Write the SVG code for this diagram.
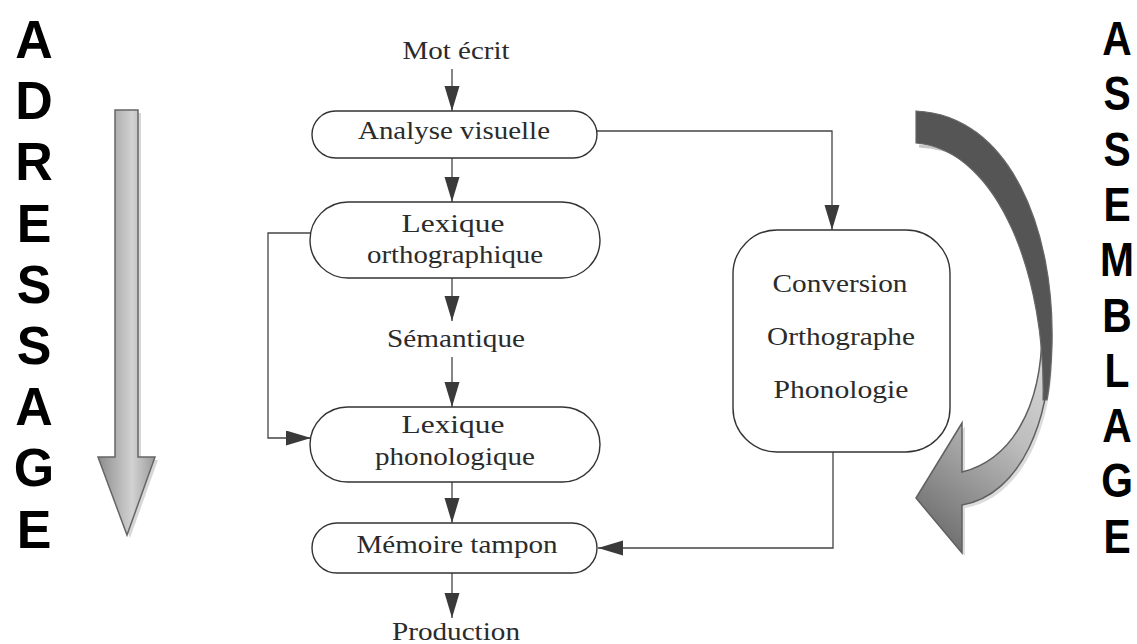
<svg xmlns="http://www.w3.org/2000/svg" width="1137" height="644" viewBox="0 0 1137 644">
<style>
.t{font-family:"Liberation Serif","Times New Roman",serif;font-size:26px;fill:#2b2b2b;text-anchor:middle}
.big{font-family:"Liberation Sans",Arial,sans-serif;font-weight:700;fill:#000;text-anchor:middle}
.box{fill:#fff;stroke:#333;stroke-width:1.4}
.ln{fill:none;stroke:#444;stroke-width:1.3}
</style>
<defs>
<marker id="ah" markerUnits="userSpaceOnUse" markerWidth="26" markerHeight="16" refX="25" refY="7.5" orient="auto">
<path d="M0,0 L25,7.5 L0,15 Z" fill="#3a3a3a"/>
</marker>
<linearGradient id="gl" x1="0" y1="0" x2="1" y2="0">
<stop offset="0" stop-color="#8c8c8c"/>
<stop offset="0.6" stop-color="#d2d2d2"/>
<stop offset="1" stop-color="#9a9a9a"/>
</linearGradient>
<linearGradient id="gr" gradientUnits="userSpaceOnUse" x1="916" y1="520" x2="1050" y2="340">
<stop offset="0" stop-color="#707070"/>
<stop offset="0.55" stop-color="#bdbdbd"/>
<stop offset="1" stop-color="#dcdcdc"/>
</linearGradient>
</defs>
<rect width="1137" height="644" fill="#fff"/>

<g id="adressage">
<g transform="translate(34,0) scale(0.98,1)">
<text class="big" font-size="53"><tspan x="0" y="58">A</tspan><tspan x="0" y="119">D</tspan><tspan x="0" y="180">R</tspan><tspan x="0" y="242">E</tspan><tspan x="0" y="303">S</tspan><tspan x="0" y="364">S</tspan><tspan x="0" y="425">A</tspan><tspan x="0" y="486">G</tspan><tspan x="0" y="548">E</tspan></text>
</g>
<path d="M118,113 H141 V460 H158 L130,538 L101,460 H118 Z" fill="#bcbcbc" opacity="0.6"/>
<path d="M115,110 H138 V457 H155 L127,535 L98,457 H115 Z" fill="url(#gl)" stroke="#666" stroke-width="1.5"/>
</g>

<g id="assemblage">
<g transform="translate(1117,0) scale(0.85,1)">
<text class="big" font-size="48"><tspan x="0" y="55">A</tspan><tspan x="0" y="110">S</tspan><tspan x="0" y="166">S</tspan><tspan x="0" y="221">E</tspan><tspan x="0" y="276">M</tspan><tspan x="0" y="332">B</tspan><tspan x="0" y="387">L</tspan><tspan x="0" y="442">A</tspan><tspan x="0" y="497">G</tspan><tspan x="0" y="553">E</tspan></text>
</g>
<path d="M1052,333 C1057,423 1023,498 965,508 L965,556 L919,501 L965,426 L965,475 C1013,463 1045,413 1045,333 Z" fill="#c4c4c4" opacity="0.6"/>
<path d="M1049,330 C1054,420 1020,495 962,505 L962,553 L916,498 L962,423 L962,472 C1010,460 1042,410 1042,330 Z" fill="url(#gr)" stroke="#606060" stroke-width="1.5"/>
<path d="M919,146 C990,150 1030,210 1040,280" fill="none" stroke="#c8c8c8" stroke-width="3"/>
<path d="M916,111 C1010,115 1055,230 1052,345 C1051,372 1049,390 1047,400 L1043,400 C1046,280 1000,150 916,143 Z" fill="#555" stroke="#666" stroke-width="1.2"/>
</g>

<g id="connectors">
<line class="ln" x1="452" y1="69" x2="452" y2="111" marker-end="url(#ah)"/>
<line class="ln" x1="452" y1="158" x2="452" y2="202" marker-end="url(#ah)"/>
<line class="ln" x1="452" y1="278" x2="452" y2="321" marker-end="url(#ah)"/>
<line class="ln" x1="452" y1="357" x2="452" y2="407" marker-end="url(#ah)"/>
<line class="ln" x1="452" y1="482" x2="452" y2="523" marker-end="url(#ah)"/>
<line class="ln" x1="452" y1="573" x2="452" y2="618" marker-end="url(#ah)"/>
<path class="ln" d="M311,233 H268 V438 H311" marker-end="url(#ah)"/>
<path class="ln" d="M597,131 H832 V230" marker-end="url(#ah)"/>
<path class="ln" d="M833,452 V548 H598" marker-end="url(#ah)"/>
</g>

<g id="mot-ecrit"><text class="t" x="456" y="59" textLength="107" lengthAdjust="spacingAndGlyphs">Mot écrit</text></g>
<g id="analyse-visuelle">
<rect class="box" x="312" y="111" width="285" height="47" rx="23.5"/>
<text class="t" x="454" y="139" textLength="192" lengthAdjust="spacingAndGlyphs">Analyse visuelle</text>
</g>
<g id="lexique-orthographique">
<rect class="box" x="310" y="202" width="290" height="76" rx="38"/>
<text class="t" x="453" y="232" textLength="103" lengthAdjust="spacingAndGlyphs">Lexique</text>
<text class="t" x="455" y="263" textLength="176" lengthAdjust="spacingAndGlyphs">orthographique</text>
</g>
<g id="semantique"><text class="t" x="456" y="347" textLength="138" lengthAdjust="spacingAndGlyphs">Sémantique</text></g>
<g id="lexique-phonologique">
<rect class="box" x="310" y="407" width="290" height="75" rx="37.5"/>
<text class="t" x="453" y="433" textLength="103" lengthAdjust="spacingAndGlyphs">Lexique</text>
<text class="t" x="455" y="465" textLength="160" lengthAdjust="spacingAndGlyphs">phonologique</text>
</g>
<g id="memoire-tampon">
<rect class="box" x="312" y="523" width="285" height="50" rx="25"/>
<text class="t" x="457" y="553" textLength="201" lengthAdjust="spacingAndGlyphs">Mémoire tampon</text>
</g>
<g id="production"><text class="t" x="456" y="640" textLength="128" lengthAdjust="spacingAndGlyphs">Production</text></g>
<g id="conversion">
<rect class="box" x="733" y="230" width="217" height="222" rx="44"/>
<text class="t" x="840" y="292" textLength="135" lengthAdjust="spacingAndGlyphs">Conversion</text>
<text class="t" x="841" y="345" textLength="148" lengthAdjust="spacingAndGlyphs">Orthographe</text>
<text class="t" x="841" y="398" textLength="135" lengthAdjust="spacingAndGlyphs">Phonologie</text>
</g>
</svg>
